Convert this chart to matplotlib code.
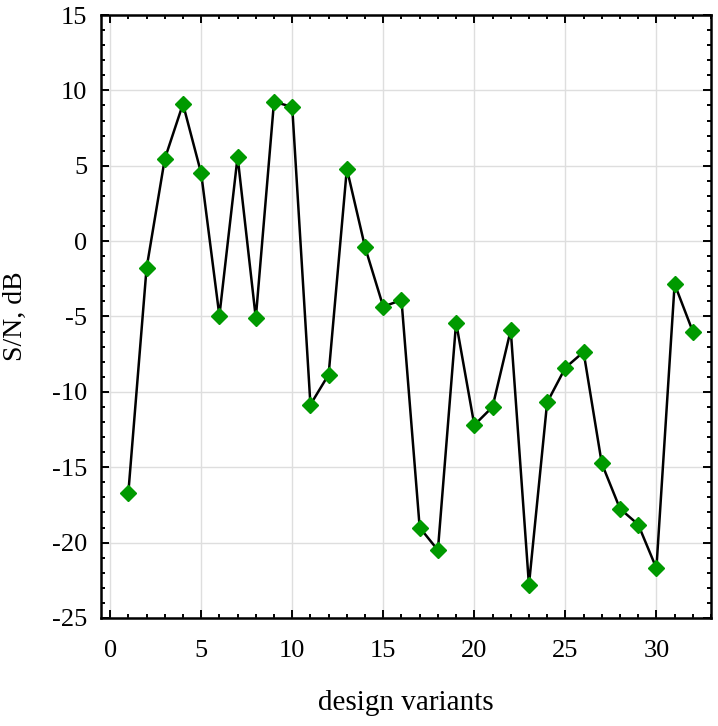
import matplotlib
matplotlib.use("Agg")
import matplotlib.pyplot as plt
from matplotlib.ticker import MultipleLocator

# S/N ratio for each design variant
variants = list(range(1, 33))
sn_db = [-16.7, -1.8, 5.45, 9.1, 4.5, -4.95, 5.6, -5.1, 9.25, 8.9,
         -10.85, -8.85, 4.8, -0.4, -4.35, -3.9, -19.0, -20.5, -5.4, -12.2,
         -11.0, -5.9, -22.8, -10.7, -8.4, -7.35, -14.75, -17.75, -18.8, -21.7,
         -2.85, -6.0]

plt.rcParams['font.family'] = ['Liberation Serif', 'DejaVu Serif']
plt.rcParams['axes.unicode_minus'] = False

fig = plt.figure(figsize=(7.18, 7.26), dpi=100)
ax = fig.add_axes([0.1407, 0.1488, 0.8496, 0.8305])

ax.plot(variants, sn_db, color='black', linewidth=1.8, zorder=2)
ax.plot(variants, sn_db, linestyle='none', marker='D', markersize=8,
        color='#009a00', zorder=3)

ax.set_xlim(-0.5, 33)
ax.set_ylim(-25, 15)
ax.xaxis.set_major_locator(MultipleLocator(5))
ax.xaxis.set_minor_locator(MultipleLocator(1))
ax.yaxis.set_major_locator(MultipleLocator(5))
ax.yaxis.set_minor_locator(MultipleLocator(1))

ax.grid(True, which='major', color='#dedede', linewidth=1.0, zorder=0)
ax.set_axisbelow(True)

for s in ax.spines.values():
    s.set_linewidth(1.8)

ax.tick_params(which='both', direction='in', top=True, right=True, width=1.4)
ax.tick_params(which='major', length=6)
ax.tick_params(which='minor', length=3)
ax.tick_params(axis='x', which='major', labelsize=19, pad=16)
ax.tick_params(axis='y', which='major', labelsize=19, pad=10)

ax.set_xlabel('design variants', fontsize=21, labelpad=20)
ax.set_ylabel('S/N, dB', fontsize=20)
ax.yaxis.set_label_coords(-0.12, 0.5)

fig.savefig('out.png', dpi=100)
